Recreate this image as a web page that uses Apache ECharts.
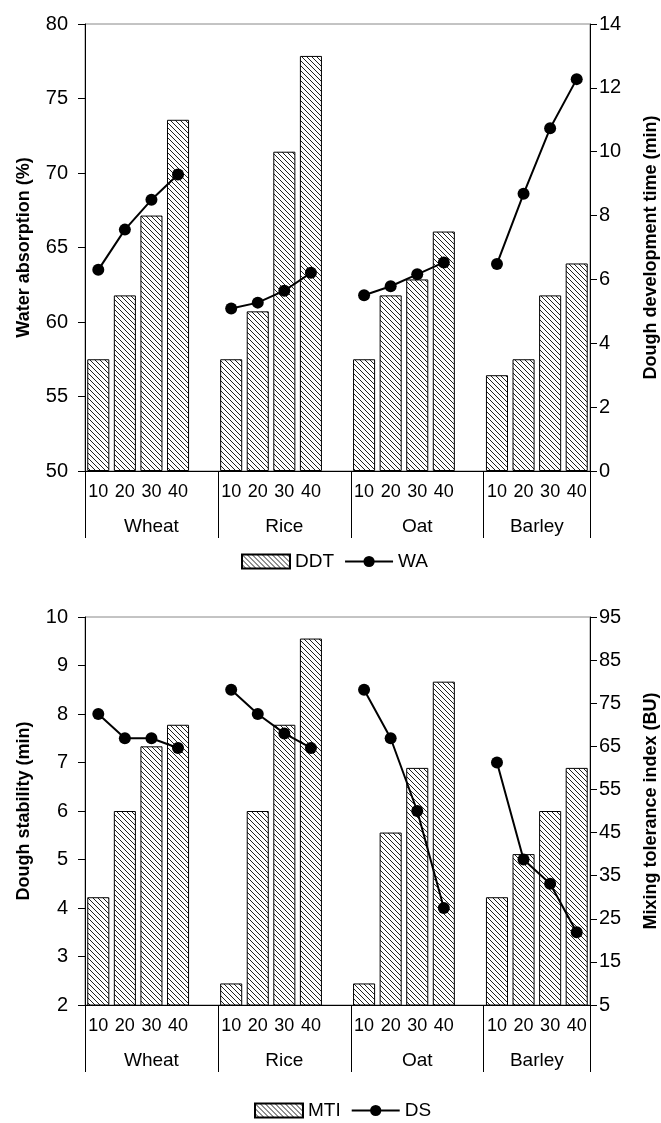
<!DOCTYPE html>
<html>
<head>
<meta charset="utf-8">
<script src="https://cdn.jsdelivr.net/npm/echarts@6/dist/echarts.min.js"></script>
<style>
  html, body { margin: 0; padding: 0; background: #fff; }
  #chart { width: 661px; height: 1123px; }
</style>
</head>
<body>
<div id="chart"></div>
<script>
const groups = ['Wheat', 'Rice', 'Oat', 'Barley'];
const levels = ['10', '20', '30', '40'];

// top panel
const ddt = [[3.5, 5.5, 8.0, 11.0], [3.5, 5.0, 10.0, 13.0], [3.5, 5.5, 6.0, 7.5], [3.0, 3.5, 5.5, 6.5]];
const wa = [[63.5, 66.2, 68.2, 69.9], [60.9, 61.3, 62.1, 63.3], [61.8, 62.4, 63.2, 64.0], [63.9, 68.6, 73.0, 76.3]];

// bottom panel
const mti = [[30, 50, 65, 70], [10, 50, 70, 90], [10, 45, 60, 80], [30, 40, 50, 60]];
const ds = [[8.0, 7.5, 7.5, 7.3], [8.5, 8.0, 7.6, 7.3], [8.5, 7.5, 6.0, 4.0], [7.0, 5.0, 4.5, 3.5]];

const mtiTicks = [5, 15, 25, 35, 45, 55, 65, 75, 85, 95];

// one empty slot between groups
const flat = (rows, gap) => rows.reduce((acc, r, i) => acc.concat(r, i < rows.length - 1 ? [gap] : []), []);
const cats = flat(groups.map(() => levels), '');

const seps = [0];
groups.forEach((g, i) => seps.push(seps[i] + levels.length + (i < groups.length - 1 ? 1 : 0)));
const centers = groups.map((g, i) => (seps[i] + seps[i + 1]) / 2);

function hatch() {
  const s = 5;
  const c = document.createElement('canvas');
  c.width = s; c.height = s;
  const g = c.getContext('2d');
  g.fillStyle = '#fff';
  g.fillRect(0, 0, s, s);
  g.strokeStyle = '#222';
  g.lineWidth = 1;
  g.beginPath();
  g.moveTo(-1, -1); g.lineTo(s + 1, s + 1);
  g.moveTo(-1, s - 1); g.lineTo(1, s + 1);
  g.moveTo(s - 1, -1); g.lineTo(s + 1, 1);
  g.stroke();
  return c;
}
const pattern = { image: hatch(), repeat: 'repeat' };

const black = '#000';
const titleStyle = { fontSize: 18, fontWeight: 'bold', color: black };

function xAxes(gridIndex) {
  return [
    {
      type: 'category', gridIndex, data: cats, position: 'bottom',
      axisLine: { onZero: false, lineStyle: { color: black } },
      axisTick: { interval: 0, length: 34, lineStyle: { color: black } },
      axisLabel: { interval: 0, fontSize: 18, color: black, margin: 12 }
    },
    {
      type: 'value', gridIndex, min: 0, max: cats.length, position: 'bottom',
      axisLine: { show: false, onZero: false },
      splitLine: { show: false },
      axisTick: { show: true, length: 67, customValues: seps, lineStyle: { color: black } },
      axisLabel: {
        fontSize: 19, color: black, margin: 46, customValues: centers,
        formatter: v => { const k = centers.indexOf(v); return k < 0 ? '' : groups[k]; }
      }
    }
  ];
}

function yAxis(gridIndex, pos, min, max, interval, name, gap, margin, custom) {
  const ax = {
    type: 'value', gridIndex, position: pos, min, max,
    name, nameLocation: 'middle', nameGap: gap, nameTextStyle: titleStyle,
    axisLine: { show: true, lineStyle: { color: black } },
    axisTick: { show: true, length: 7, lineStyle: { color: black } },
    axisLabel: { fontSize: 20, color: black, margin },
    splitLine: { show: false }
  };
  if (interval) ax.interval = interval;
  if (custom) {
    ax.axisTick.customValues = custom;
    ax.axisLabel.customValues = custom;
  }
  return ax;
}

function barSeries(name, rows, xi, yi) {
  return {
    name, type: 'bar', xAxisIndex: xi, yAxisIndex: yi,
    data: flat(rows, '-'), barCategoryGap: '17%',
    itemStyle: { color: pattern, borderColor: black, borderWidth: 1 }
  };
}

function lineSeries(name, rows, xi, yi) {
  return {
    name, type: 'line', xAxisIndex: xi, yAxisIndex: yi, z: 5,
    data: flat(rows, '-'), connectNulls: false,
    symbol: 'circle', symbolSize: 12,
    itemStyle: { color: black },
    lineStyle: { color: black, width: 2 }
  };
}

const legendBase = {
  itemWidth: 48, itemHeight: 14, itemGap: 10,
  textStyle: { fontSize: 19, color: black }
};

const chart = echarts.init(document.getElementById('chart'), null, { renderer: 'canvas' });

const option = {
  animation: false,
  backgroundColor: '#fff',
  textStyle: { fontFamily: 'Liberation Sans, Arial, sans-serif' },
  grid: [
    { left: 85, right: 71, top: 24, height: 447, outerBoundsMode: 'none', containLabel: false,
      show: true, borderColor: '#888', borderWidth: 1 },
    { left: 85, right: 71, top: 617, height: 388, outerBoundsMode: 'none', containLabel: false,
      show: true, borderColor: '#888', borderWidth: 1 }
  ],
  legend: [
    Object.assign({ top: 547, left: 236, data: [{ name: 'DDT', icon: 'rect' }, 'WA'] }, legendBase),
    Object.assign({ top: 1096, left: 249, data: [{ name: 'MTI', icon: 'rect' }, 'DS'] }, legendBase)
  ],
  xAxis: xAxes(0).concat(xAxes(1)),
  yAxis: [
    yAxis(0, 'left', 50, 80, 5, 'Water absorption (%)', 52, 17),
    yAxis(0, 'right', 0, 14, 2, 'Dough development time (min)', 52, 9),
    yAxis(1, 'left', 2, 10, 1, 'Dough stability (min)', 52, 17),
    yAxis(1, 'right', 5, 95, null, 'Mixing tolerance index (BU)', 52, 9, mtiTicks)
  ],
  series: [
    barSeries('DDT', ddt, 0, 1),
    lineSeries('WA', wa, 0, 0),
    barSeries('MTI', mti, 2, 3),
    lineSeries('DS', ds, 2, 2)
  ]
};

chart.setOption(option);
</script>
</body>
</html>
